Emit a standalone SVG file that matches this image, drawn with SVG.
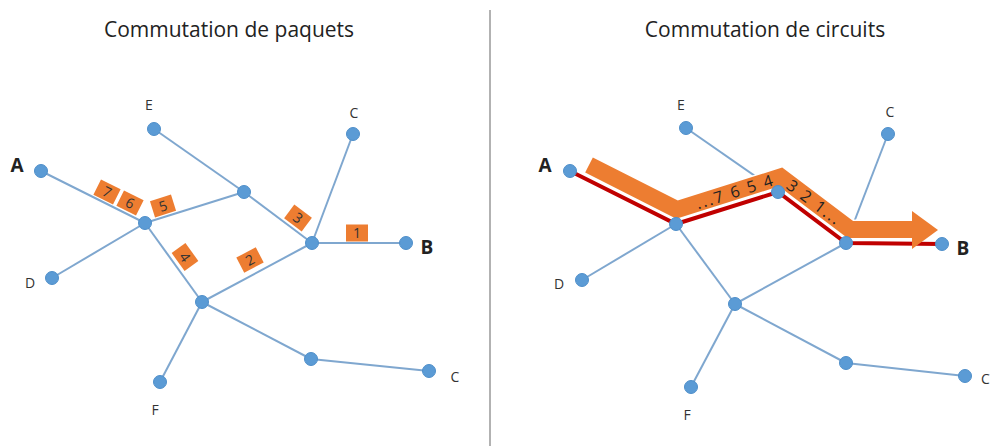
<svg xmlns="http://www.w3.org/2000/svg" width="992" height="446" viewBox="0 0 992 446">
<style>
.ln{stroke:#7fa7cf;stroke-width:2;fill:none}
.nd{fill:#5b9bd5;stroke:#4f8fca;stroke-width:1}
.lb{font-family:"Open Sans","Liberation Sans",sans-serif;font-size:14px;fill:#333;text-anchor:middle}
.lbb{font-family:"Open Sans","Liberation Sans",sans-serif;font-size:19px;font-weight:bold;fill:#222;text-anchor:middle}
.ttl{font-family:"Open Sans","Liberation Sans",sans-serif;font-size:21px;fill:#222;text-anchor:middle}
.pk{fill:#ed7d31}
.pt{font-family:"Open Sans","Liberation Sans",sans-serif;font-size:14px;fill:#333;text-anchor:middle}
.bt{font-family:"Open Sans","Liberation Sans",sans-serif;font-size:16px;fill:#222;text-anchor:middle;letter-spacing:2px}
</style>
<rect width="992" height="446" fill="#fff"/>
<line x1="490" y1="10" x2="490" y2="446" stroke="#999" stroke-width="1.5"/>
<text class="ttl" x="229" y="37">Commutation de paquets</text>
<text class="ttl" x="765" y="37">Commutation de circuits</text>

<g id="connectors">
<g id="left-edges">
<line class="ln" x1="41" y1="171" x2="145" y2="223"/>
<line class="ln" x1="154" y1="129" x2="244" y2="192"/>
<line class="ln" x1="145" y1="223" x2="244" y2="192"/>
<line class="ln" x1="145" y1="223" x2="52" y2="278"/>
<line class="ln" x1="145" y1="223" x2="202" y2="302"/>
<line class="ln" x1="244" y1="192" x2="312" y2="243"/>
<line class="ln" x1="353" y1="134" x2="312" y2="243"/>
<line class="ln" x1="312" y1="243" x2="406" y2="243"/>
<line class="ln" x1="202" y1="302" x2="312" y2="243"/>
<line class="ln" x1="202" y1="302" x2="160" y2="382"/>
<line class="ln" x1="202" y1="302" x2="311" y2="359"/>
<line class="ln" x1="311" y1="359" x2="429" y2="371"/>
</g>
<g id="right-edges">
<line class="ln" x1="570" y1="171" x2="676" y2="224"/>
<line class="ln" x1="686" y1="128" x2="778" y2="192"/>
<line class="ln" x1="676" y1="224" x2="778" y2="192"/>
<line class="ln" x1="676" y1="224" x2="582" y2="280"/>
<line class="ln" x1="676" y1="224" x2="735" y2="304"/>
<line class="ln" x1="778" y1="192" x2="846" y2="243"/>
<line class="ln" x1="888" y1="134" x2="846" y2="243"/>
<line class="ln" x1="846" y1="243" x2="942" y2="244"/>
<line class="ln" x1="735" y1="304" x2="846" y2="243"/>
<line class="ln" x1="735" y1="304" x2="691" y2="387"/>
<line class="ln" x1="735" y1="304" x2="846" y2="363"/>
<line class="ln" x1="846" y1="363" x2="965" y2="376"/>
</g>
<polyline id="circuit" points="570,171 676,224 778,192 846,243 942,244" fill="none" stroke="#c00000" stroke-width="4" stroke-linejoin="miter"/>
<g id="flow-arrow">
<polyline points="589,165 677,209.5 780.6,177 850.3,229.5 914,229.5" fill="none" stroke="#fff" stroke-width="20" stroke-linejoin="miter" stroke-miterlimit="10"/>
<polyline points="589,165 677,209.5 780.6,177 850.3,229.5 914,229.5" fill="none" stroke="#ed7d31" stroke-width="17" stroke-linejoin="miter" stroke-miterlimit="10"/>
<polygon points="912,211 938,230 912,249" fill="#ed7d31"/>
<text class="bt" transform="translate(737,197) rotate(-17.4)" x="0" y="0">...7 6 5 4</text>
<text class="bt" transform="translate(811,207) rotate(36.9)" x="0" y="0">3 2 1...</text>
</g>
</g>

<g id="packets">
<g transform="translate(107,192) rotate(26.6)"><rect class="pk" x="-11" y="-8.5" width="22" height="17"/><text class="pt" y="5">7</text></g>
<g transform="translate(130,203) rotate(26.6)"><rect class="pk" x="-11" y="-8.5" width="22" height="17"/><text class="pt" y="5">6</text></g>
<g transform="translate(163,206) rotate(-17.4)"><rect class="pk" x="-11" y="-8.5" width="22" height="17"/><text class="pt" y="5">5</text></g>
<g transform="translate(185,257) rotate(54)"><rect class="pk" x="-11" y="-8.5" width="22" height="17"/><text class="pt" y="5">4</text></g>
<g transform="translate(298,218) rotate(36.9)"><rect class="pk" x="-11" y="-8.5" width="22" height="17"/><text class="pt" y="5">3</text></g>
<g transform="translate(250,260) rotate(-27.8)"><rect class="pk" x="-11" y="-8.5" width="22" height="17"/><text class="pt" y="5">2</text></g>
<g transform="translate(357,233)"><rect class="pk" x="-11" y="-8.5" width="22" height="17"/><text class="pt" y="5">1</text></g>
</g>

<g id="L-A"><circle class="nd" cx="41" cy="171" r="6.5"/><text class="lbb" x="17" y="172">A</text></g>
<g id="L-E"><circle class="nd" cx="154" cy="129" r="6.5"/><text class="lb" x="149" y="110">E</text></g>
<g id="L-H1"><circle class="nd" cx="145" cy="223" r="6.5"/></g>
<g id="L-D"><circle class="nd" cx="52" cy="278" r="6.5"/><text class="lb" x="30" y="288">D</text></g>
<g id="L-M"><circle class="nd" cx="244" cy="192" r="6.5"/></g>
<g id="L-H2"><circle class="nd" cx="312" cy="243" r="6.5"/></g>
<g id="L-C1"><circle class="nd" cx="353" cy="134" r="6.5"/><text class="lb" x="354" y="118">C</text></g>
<g id="L-B"><circle class="nd" cx="406" cy="243" r="6.5"/><text class="lbb" x="427" y="254">B</text></g>
<g id="L-H3"><circle class="nd" cx="202" cy="302" r="6.5"/></g>
<g id="L-F"><circle class="nd" cx="160" cy="382" r="6.5"/><text class="lb" x="155" y="415">F</text></g>
<g id="L-LM"><circle class="nd" cx="311" cy="359" r="6.5"/></g>
<g id="L-C2"><circle class="nd" cx="429" cy="371" r="6.5"/><text class="lb" x="455" y="382">C</text></g>

<g id="R-A"><circle class="nd" cx="570" cy="171" r="6.5"/><text class="lbb" x="545" y="172">A</text></g>
<g id="R-E"><circle class="nd" cx="686" cy="128" r="6.5"/><text class="lb" x="681" y="110">E</text></g>
<g id="R-H1"><circle class="nd" cx="676" cy="224" r="6.5"/></g>
<g id="R-D"><circle class="nd" cx="582" cy="280" r="6.5"/><text class="lb" x="559" y="289">D</text></g>
<g id="R-M"><circle class="nd" cx="778" cy="192" r="6.5"/></g>
<g id="R-H2"><circle class="nd" cx="846" cy="243" r="6.5"/></g>
<g id="R-C1"><circle class="nd" cx="888" cy="134" r="6.5"/><text class="lb" x="890" y="117">C</text></g>
<g id="R-B"><circle class="nd" cx="942" cy="244" r="6.5"/><text class="lbb" x="963" y="255">B</text></g>
<g id="R-H3"><circle class="nd" cx="735" cy="304" r="6.5"/></g>
<g id="R-F"><circle class="nd" cx="691" cy="387" r="6.5"/><text class="lb" x="687" y="420">F</text></g>
<g id="R-LM"><circle class="nd" cx="846" cy="363" r="6.5"/></g>
<g id="R-C2"><circle class="nd" cx="965" cy="376" r="6.5"/><text class="lb" x="981" y="384" style="text-anchor:start">C</text></g>
</svg>
